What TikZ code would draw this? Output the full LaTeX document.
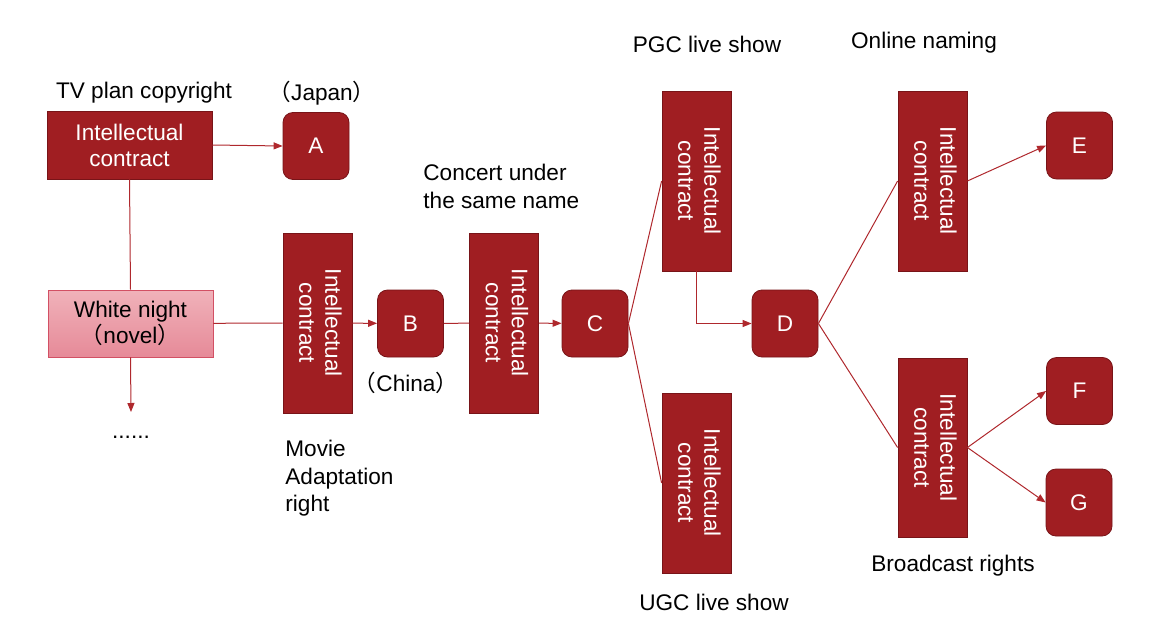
\documentclass[tikz,border=0pt]{standalone}
\usepackage{fontspec}
\setmainfont{Liberation Sans}
\newfontfamily\cjk{Noto Sans CJK SC}
\usetikzlibrary{arrows.meta}

\definecolor{boxred}{RGB}{160,30,34}
\definecolor{boxedge}{RGB}{120,20,24}
\definecolor{linkred}{RGB}{175,40,45}
\definecolor{pinktop}{RGB}{240,178,186}
\definecolor{pinkbot}{RGB}{230,138,152}
\definecolor{pinkedge}{RGB}{210,80,100}

\newcommand{\vcontract}{\rotatebox{-90}{\begin{tabular}{@{}c@{}}Intellectual\\contract\end{tabular}}}
\newcommand{\lpar}{{\cjk （}}
\newcommand{\rpar}{{\cjk ）}}

\begin{document}
\begin{tikzpicture}[x=0.5pt,y=-0.5pt,
  font=\fontsize{11.3}{13}\selectfont,
  contract/.style={draw=boxedge,fill=boxred,text=white,inner sep=0pt,align=center},
  vcon/.style={contract,minimum width=34.5pt,minimum height=90pt},
  party/.style={draw=boxedge,fill=boxred,text=white,rounded corners=5pt,
    minimum width=33pt,minimum height=33.5pt},
  link/.style={draw=linkred,line width=0.5pt},
  flow/.style={link,-{Triangle[length=4.5pt,width=3.5pt]}},
  note/.style={align=left,inner sep=0pt,font=\fontsize{11.3}{13.8}\selectfont}]
\useasboundingbox (0,0) rectangle (1165,626);

% Source work
\node[contract,minimum width=82.5pt,minimum height=34pt] (tv) at (129.5,145) {Intellectual\\contract};
\node[party] (A) at (316,146) {A};
\node (tvlab) at (144,93) {TV plan copyright};
\node (jplab) at (322,93) {\lpar Japan\rpar};
\node[draw=pinkedge,top color=pinktop,bottom color=pinkbot,align=center,inner sep=0pt,
  minimum width=82.5pt,minimum height=33.5pt] (novel) at (130.5,323.5) {White night\\\lpar novel\rpar};
\coordinate (more) at (131,412);
\node (dots) at (131,437) {......};

% Film and concert
\node[vcon] (movie) at (317.5,323) {\vcontract};
\node[note,anchor=north west] (movielab) at (285,440) {Movie\\Adaptation\\right};
\node[party] (B) at (410.5,323.5) {B};
\node (cnlab) at (406,383) {\lpar China\rpar};
\node[vcon] (concert) at (504,323) {\vcontract};
\node[note,anchor=north west] (concertlab) at (423,164) {Concert under\\the same name};
\node[party] (C) at (595,323.5) {C};

% Live shows
\node[vcon] (pgc) at (696.5,181) {\vcontract};
\node (pgclab) at (707,44) {PGC live show};
\node[vcon] (ugc) at (696.5,483) {\vcontract};
\node (ugclab) at (714,602) {UGC live show};
\node[party] (D) at (785,323.5) {D};

% Naming and broadcast
\node[vcon] (naming) at (932.5,181) {\vcontract};
\node (namlab) at (924,43) {Online naming};
\node[vcon,minimum height=89.5pt] (broadcast) at (932.5,447.5) {\vcontract};
\node (brlab) at (953,566) {Broadcast rights};
\node[party] (E) at (1079.5,145.5) {E};
\node[party] (F) at (1079.5,391) {F};
\node[party] (G) at (1079,502.5) {G};

% Connectors
\draw[flow] (tv.east) -- (A.west);
\draw[link] (tv.south) -- (novel.north);
\draw[flow] (novel.south) -- (more);
\draw[link] (novel) -- (movie);
\draw[flow] (movie) -- (B);
\draw[link] (B) -- (concert);
\draw[flow] (concert) -- (C);
\draw[link] (C.east) -- (pgc.west);
\draw[link] (C.east) -- (ugc.west);
\draw[flow] (pgc.south) |- (D.west);
\draw[link] (D.east) -- (naming.west);
\draw[link] (D.east) -- (broadcast.west);
\draw[flow] (naming.east) -- (E.west);
\foreach \p in {F,G}{
  \draw[flow] (broadcast.east) -- (\p.west);
}
\end{tikzpicture}
\end{document}
